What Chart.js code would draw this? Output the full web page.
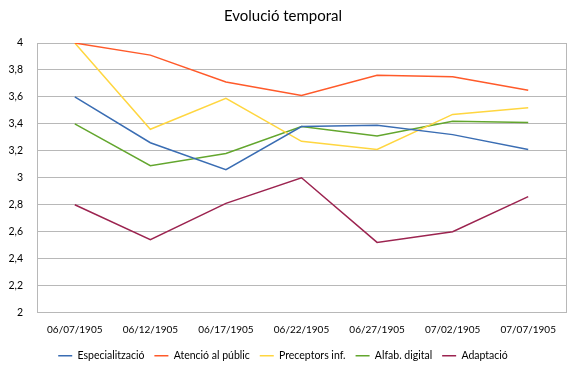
<!DOCTYPE html>
<html>
<head>
<meta charset="utf-8">
<script src="https://cdn.jsdelivr.net/npm/chart.js@4/dist/chart.umd.min.js"></script>
<style>
  html, body { margin: 0; padding: 0; background: #fff; }
  #wrap { width: 585px; height: 371px; }
</style>
</head>
<body>
<div id="wrap"><canvas id="chart" width="585" height="371"></canvas></div>
<script>
// Dades del gràfic
const categories = ['06/07/1905', '06/12/1905', '06/17/1905', '06/22/1905', '06/27/1905', '07/02/1905', '07/07/1905'];
const especialitzacio = [3.6, 3.26, 3.06, 3.38, 3.39, 3.32, 3.21];
const atencioPublic = [4.0, 3.91, 3.71, 3.61, 3.76, 3.75, 3.65];
const preceptorsInf = [4.0, 3.36, 3.59, 3.27, 3.21, 3.47, 3.52];
const alfabDigital = [3.4, 3.09, 3.18, 3.38, 3.31, 3.42, 3.41];
const adaptacio = [2.8, 2.54, 2.81, 3.0, 2.52, 2.6, 2.86];
const yTicks = [2, 2.2, 2.4, 2.6, 2.8, 3, 3.2, 3.4, 3.6, 3.8, 4];

const FONT = 'Lato, "Open Sans", sans-serif';

// vora dreta de l'àrea del gràfic
const plotBorder = {
    id: 'plotBorder',
    afterDraw(chart) {
        const { ctx, chartArea: a } = chart;
        ctx.save();
        ctx.strokeStyle = '#b8b8b8';
        ctx.lineWidth = 1;
        ctx.beginPath();
        ctx.moveTo(Math.round(a.right) + 0.5, a.top);
        ctx.lineTo(Math.round(a.right) + 0.5, a.bottom);
        ctx.stroke();
        ctx.restore();
    }
};

function serie(label, data, color) {
    return {
        label,
        data,
        borderColor: color,
        backgroundColor: color,
        borderWidth: 1.5,
        pointRadius: 0,
        tension: 0,
        fill: false
    };
}

new Chart(document.getElementById('chart'), {
    type: 'line',
    data: {
        labels: categories,
        datasets: [
            serie('Especialització', especialitzacio, '#3a6db3'),
            serie('Atenció al públic', atencioPublic, '#ff5a2a'),
            serie('Preceptors inf.', preceptorsInf, '#ffd640'),
            serie('Alfab. digital', alfabDigital, '#63a62e'),
            serie('Adaptació', adaptacio, '#9c2450')
        ]
    },
    options: {
        responsive: false,
        animation: false,
        layout: { padding: { left: 0, right: 19, top: 0, bottom: 0 } },
        plugins: {
            title: {
                display: true,
                text: 'Evolució temporal',
                color: '#000',
                font: { family: FONT, size: 15, weight: 'normal' },
                padding: { top: 7, bottom: 18 }
            },
            legend: {
                position: 'bottom',
                labels: {
                    usePointStyle: true,
                    pointStyle: 'line',
                    pointStyleWidth: 14,
                    color: '#000',
                    font: { family: FONT, size: 10.5 },
                    padding: 10
                }
            },
            tooltip: { enabled: false }
        },
        scales: {
            x: {
                offset: true,
                grid: { display: false, drawTicks: false },
                border: { display: true, color: '#b8b8b8' },
                afterFit: (scale) => { scale.height = 28; },
                ticks: {
                    color: '#000',
                    font: { family: FONT, size: 10 },
                    maxRotation: 0,
                    autoSkip: false,
                    padding: 11
                }
            },
            y: {
                min: 2,
                max: 4,
                afterBuildTicks: (scale) => {
                    scale.ticks = yTicks.map(v => ({ value: v }));
                },
                afterFit: (scale) => { scale.width = 37; },
                grid: { color: '#b8b8b8', drawTicks: false },
                border: { display: true, color: '#b8b8b8' },
                ticks: {
                    color: '#000',
                    font: { family: FONT, size: 10.5 },
                    padding: 14,
                    callback: (v) => String(Math.round(v * 10) / 10).replace('.', ',')
                }
            }
        }
    },
    plugins: [plotBorder]
});
</script>
</body>
</html>
